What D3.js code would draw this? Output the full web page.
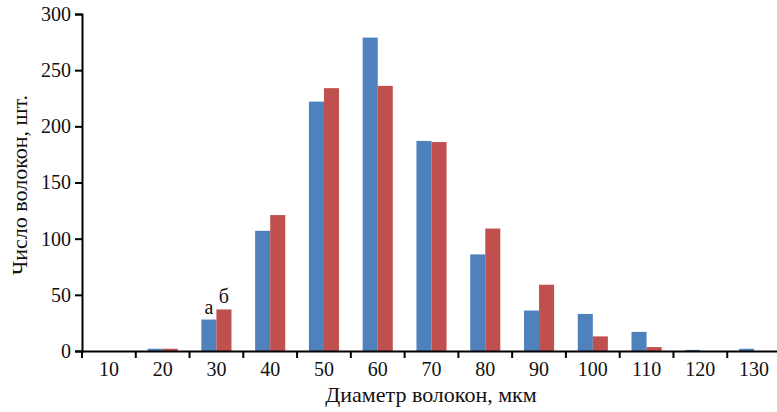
<!DOCTYPE html>
<html>
<head>
<meta charset="utf-8">
<script src="https://cdn.jsdelivr.net/npm/d3@7"></script>
<style>
  body { margin: 0; background: #fff; }
  svg, svg text { font-family: "Liberation Serif" !important; }
</style>
</head>
<body>
<script>
// Диаметр волокон (мкм) и число волокон для образцов а и б
const diameters = [10, 20, 30, 40, 50, 60, 70, 80, 90, 100, 110, 120, 130];
const seriesA = [0, 2, 28, 107, 222, 279, 187, 86, 36, 33, 17, 1, 2];
const seriesB = [0, 2, 37, 121, 234, 236, 186, 109, 59, 13, 3.5, 0, 0];
const yTicks = [0, 50, 100, 150, 200, 250, 300];
const seriesNames = ['а', 'б'];
const colors = ['#4f81bd', '#c0504d'];

const W = 777, H = 412;
const margin = { top: 14, right: -4, bottom: 61, left: 82 },
  width = W - margin.left - margin.right,
  height = H - margin.top - margin.bottom;

const root = d3.select('body')
  .append('svg')
  .attr('width', W)
  .attr('height', H)
  .attr('font-family', 'Liberation Serif');

const svg = root.append('g')
  .attr('transform', `translate(${margin.left}, ${margin.top})`);

const x = d3.scaleBand()
  .domain(diameters)
  .range([0, width])
  .paddingInner(0.44)
  .paddingOuter(0.22);

const x1 = d3.scaleBand()
  .domain([0, 1])
  .range([0, x.bandwidth()]);

const y = d3.scaleLinear()
  .domain([0, 300])
  .range([height, 0]);

// Столбцы
const data = diameters.map((d, i) => ({ d, vals: [seriesA[i], seriesB[i]] }));
svg.append('g')
  .selectAll('g')
  .data(data)
  .join('g')
  .attr('transform', d => `translate(${x(d.d)},0)`)
  .selectAll('rect')
  .data(d => d.vals.map((v, k) => ({ v, k })))
  .join('rect')
  .attr('x', d => x1(d.k))
  .attr('y', d => y(d.v))
  .attr('width', x1.bandwidth())
  .attr('height', d => height - y(d.v))
  .attr('fill', d => colors[d.k]);

// Ось Y
const yAxis = svg.append('g')
  .call(d3.axisLeft(y).tickValues(yTicks).tickSize(7).tickPadding(4))
  .attr('font-family', 'Liberation Serif')
  .attr('font-size', 20);
yAxis.select('.domain').attr('stroke', '#000').attr('stroke-width', 2);
yAxis.selectAll('.tick line').attr('stroke', '#000').attr('stroke-width', 2);
yAxis.selectAll('text').attr('fill', '#111');

// Ось X: метки по центру, засечки на границах интервалов
const xAxis = svg.append('g')
  .attr('transform', `translate(0, ${height})`)
  .call(d3.axisBottom(x).tickSize(0).tickPadding(11))
  .attr('font-family', 'Liberation Serif')
  .attr('font-size', 20);
xAxis.select('.domain').attr('stroke', '#000').attr('stroke-width', 2);
xAxis.selectAll('text').attr('fill', '#111');

const step = x.step();
const boundaries = diameters.map((d, i) => i * step);
xAxis.selectAll('.bound')
  .data(boundaries)
  .join('line')
  .attr('class', 'bound')
  .attr('x1', d => d)
  .attr('x2', d => d)
  .attr('y1', 0)
  .attr('y2', 7)
  .attr('stroke', '#000')
  .attr('stroke-width', 2);

// Подписи серий над столбцами 30 мкм
const i30 = diameters.indexOf(30);
svg.selectAll('.slabel')
  .data(seriesNames)
  .join('text')
  .attr('class', 'slabel')
  .attr('x', (d, k) => x(30) + x1(k) + x1.bandwidth() / 2)
  .attr('y', (d, k) => y([seriesA[i30], seriesB[i30]][k]) - 6)
  .attr('text-anchor', 'middle')
  .attr('fill', '#111')
  .attr('font-size', 20)
  .text(d => d);

// Подписи осей
svg.append('text')
  .attr('x', 431 - margin.left)
  .attr('y', 402 - margin.top)
  .attr('text-anchor', 'middle')
  .attr('fill', '#111')
  .attr('font-size', 22)
  .text('Диаметр волокон, мкм');

svg.append('text')
  .attr('transform', `translate(${27 - margin.left}, ${185 - margin.top}) rotate(-90)`)
  .attr('text-anchor', 'middle')
  .attr('fill', '#111')
  .attr('font-size', 22)
  .text('Число волокон, шт.');
</script>
</body>
</html>
